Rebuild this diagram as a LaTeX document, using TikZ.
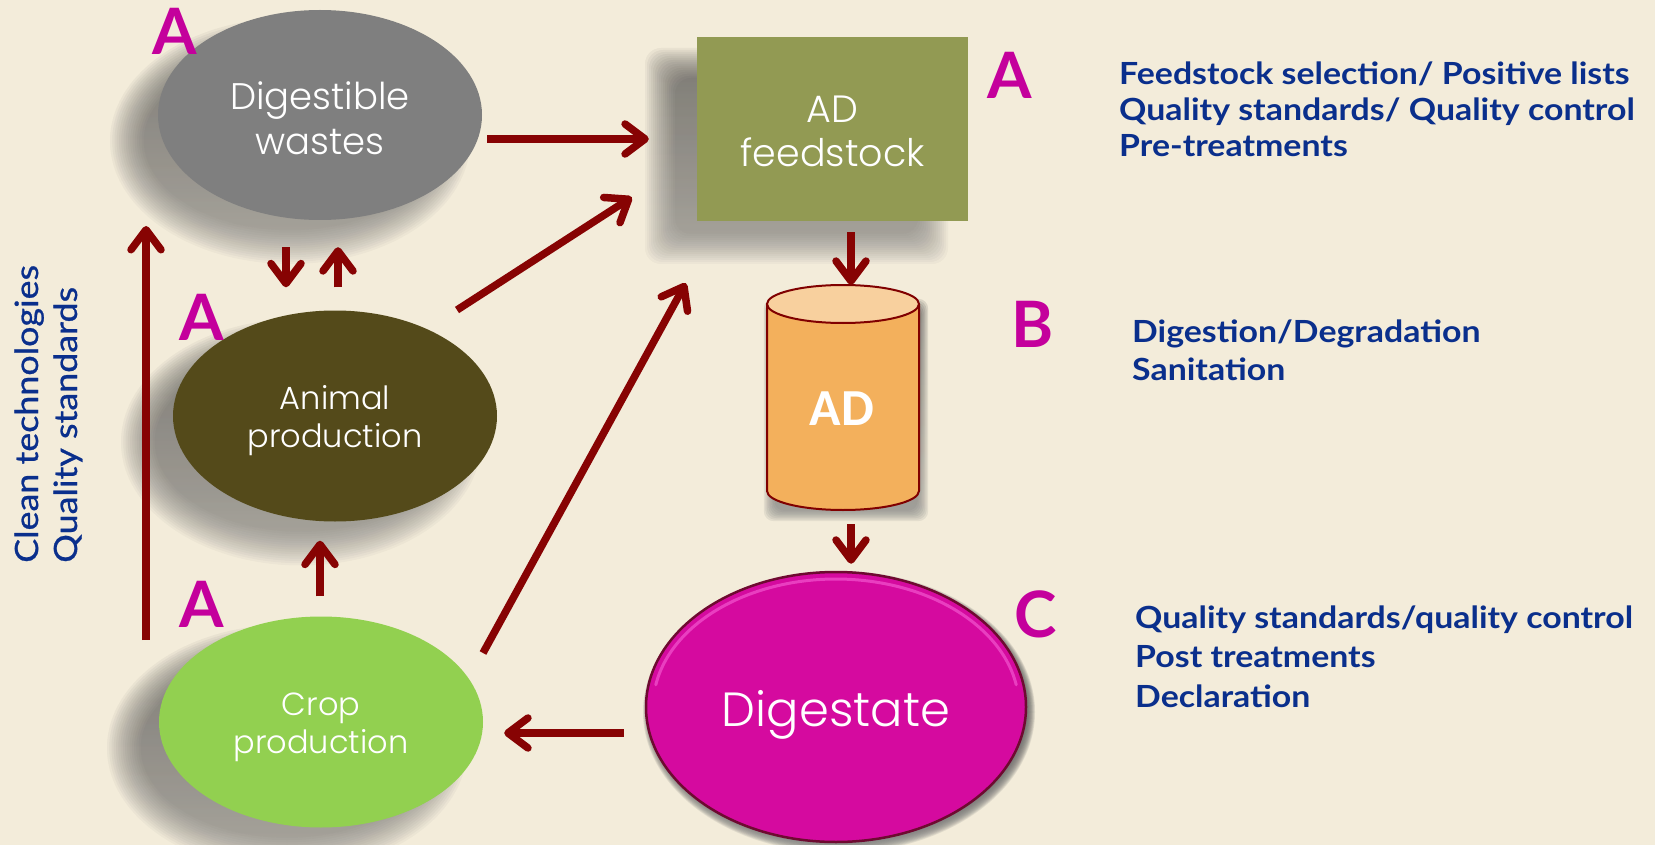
\documentclass[tikz,border=0pt]{standalone}
\usepackage{fontspec}
\setmainfont{Lato}
\newfontfamily\gothic{Poppins Light}
\newfontfamily\notefont{Lato Bold}[FakeStretch=1.11]
\newfontfamily\sidefont{Lato}[FakeStretch=1.12, FakeBold=0.8]
\newfontfamily\boldsans{Lato Bold}
\newfontfamily\calib{Carlito}
\usetikzlibrary{arrows.meta,calc,shapes.geometric}

\definecolor{bg}{HTML}{F3ECDA}
\definecolor{wastegrey}{HTML}{7F7F7F}
\definecolor{feedolive}{HTML}{929A53}
\definecolor{animalbrown}{HTML}{544A1A}
\definecolor{cropgreen}{HTML}{92D050}
\definecolor{cylbody}{HTML}{F3B05C}
\definecolor{cyltop}{HTML}{F8D09E}
\definecolor{maroon}{HTML}{800000}
\definecolor{arrowred}{HTML}{870303}
\definecolor{digmag}{HTML}{D50A9F}
\definecolor{digrim}{HTML}{6E0A30}
\definecolor{dighl}{HTML}{F255CF}
\definecolor{lettermag}{HTML}{C4009C}
\definecolor{noteblue}{HTML}{0A2F8C}
\definecolor{shade}{HTML}{3A3220}

\pgfdeclarelayer{shadelayer}
\pgfsetlayers{shadelayer,main}

% soft shadow under an elliptical node: name, x radius, y radius, dx, dy, spread, opacity
\newcommand\ovalshade[7]{%
  \foreach \k in {0,...,15}{%
    \fill[shade, opacity=#7] ($(#1.center)+(#4,#5)$)
      ellipse[x radius={(#2+#6-#6*\k/8)*1pt}, y radius={(#3+#6-#6*\k/8)*1pt}];}}
% soft shadow under a rectangular node: name, half width, half height, dx, dy, spread, opacity
\newcommand\boxshade[7]{%
  \foreach \k in {0,...,15}{%
    \pgfmathsetmacro\grow{#6-#6*\k/8}%
    \fill[shade, opacity=#7, rounded corners=16pt]
      ($(#1.center)+(#4,#5)+(-#2,-#3)+(-\grow,-\grow)$) rectangle
      ($(#1.center)+(#4,#5)+(#2,#3)+(\grow,\grow)$);}}
% invisible strut that lowers a node's text a little
\newcommand\textdrop[1]{\rule{0pt}{#1}}

\tikzset{
  blob/.style={ellipse, inner sep=0pt, text=white, align=center},
  arr/.style={draw=arrowred, line width=7.5pt,
      -{Straight Barb[length=20pt, width=30pt, line cap=round, line join=round]}},
  stagelbl/.style={anchor=base, inner sep=0pt, text=lettermag,
      font=\boldsans\fontsize{64}{64}\selectfont},
  note/.style={anchor=base west, inner sep=0pt, text=noteblue,
      font=\notefont\fontsize{30.5}{36}\selectfont},
  sidenote/.style={anchor=base west, inner sep=0pt, text=noteblue, rotate=90,
      font=\sidefont\fontsize{32}{36}\selectfont},
}

\begin{document}
\begin{tikzpicture}[x=1pt, y=-1pt]
\begin{pgfonlayer}{shadelayer}
  \fill[bg] (0,0) rectangle (1655,845);
\end{pgfonlayer}
\useasboundingbox (0,0) rectangle (1655,845);

% main stages
\node[blob, fill=wastegrey, minimum width=324pt, minimum height=210pt,
      font=\gothic\fontsize{37}{45}\selectfont] (dw) at (320,115) {\textdrop{0.92em}Digestible\\wastes};
\node[rectangle, fill=feedolive, minimum width=271pt, minimum height=184pt, inner sep=0pt,
      text=white, align=center,
      font=\gothic\fontsize{38}{44}\selectfont] (feed) at (832.5,129) {\textdrop{0.84em}AD\\feedstock};
\node[blob, fill=animalbrown, minimum width=324pt, minimum height=211pt,
      font=\gothic\fontsize{32}{38}\selectfont] (an) at (335,416) {\textdrop{1.06em}Animal\\production};
\node[blob, fill=cropgreen, minimum width=324pt, minimum height=211pt,
      font=\gothic\fontsize{32}{38}\selectfont] (crop) at (321,722) {\textdrop{1.06em}Crop\\production};

% digestate
\node[blob, fill=digmag, draw=digrim, line width=2.5pt, minimum width=380pt, minimum height=270pt,
      font=\gothic\fontsize{48}{48}\selectfont] (dig) at (836,707) {\textdrop{1.08em}Digestate};
\draw[dighl, line width=3pt, opacity=.7, line cap=round]
  ($(dig.center)+(-180.2,-22.2)$) arc[start angle=170, end angle=10, x radius=183pt, y radius=128pt];

% digester tank
\node[minimum width=152pt, minimum height=225pt, inner sep=0pt] (cyl) at (843,397.5) {};
\fill[cylbody]
  (767,304) -- (767,491) arc[start angle=180, end angle=360, x radius=76pt, y radius=19pt]
  -- (919,304) -- cycle;
\draw[maroon, line width=2pt]
  (767,304) -- (767,491) arc[start angle=180, end angle=360, x radius=76pt, y radius=19pt]
  -- (919,304);
\filldraw[fill=cyltop, draw=maroon, line width=2pt] (843,304) ellipse[x radius=76pt, y radius=19pt];
\node[inner sep=0pt, text=white, font=\calib\bfseries\fontsize{52}{52}\selectfont] (adlbl) at (842,409) {AD};

% shadows beneath the shapes
\begin{pgfonlayer}{shadelayer}
  \ovalshade{dw}{162}{105}{-30}{26}{18}{0.026}
  \ovalshade{an}{162}{105.5}{-34}{26}{18}{0.026}
  \ovalshade{crop}{162}{105.5}{-34}{26}{18}{0.026}
  \boxshade{feed}{135.5}{92}{-36}{27}{16}{0.026}
  \ovalshade{dig}{190}{135}{3}{5}{6}{0.07}
  \foreach \k in {0,...,7}{%
    \fill[shade, opacity=0.07, rounded corners=10pt]
      ($(cyl.north west)+(3-6+1.5*\k,20-6+1.5*\k)$) rectangle ($(cyl.south east)+(3+6-1.5*\k,5+6-1.5*\k)$);}
\end{pgfonlayer}

% flows
\draw[arr] ($(dw.east)+(5,24)$) -- ($(feed.west)+(-48,10)$);
\draw[arr] ($(an.center)+(122,-106)$) -- ($(feed.south west)+(-65,-24)$);
\draw[arr] ($(crop.center)+(162,-69)$) -- ($(feed.south west)+(-11,62)$);
\draw[arr] ($(feed.south)+(18.5,11)$) -- ($(cyl.north)+(8,0)$);
\draw[arr] ($(cyl.south)+(8,14)$) -- ($(dig.north)+(15,-7)$);
\draw[arr] ($(dig.west)+(-21,26)$) -- ($(crop.east)+(21,11)$);
\draw[arr] ($(crop.north)+(-1,-20)$) -- ($(an.south)+(-15,19)$);
\draw[arr] ($(an.north)+(3,-23)$) -- ($(dw.south)+(18,27)$);
\draw[arr] ($(dw.south)+(-34,27)$) -- ($(an.north)+(-49,-23)$);
\draw[arr] ($(crop.center)+(-175,-82)$) -- ($(dw.center)+(-174,111)$);

% stage letters
\node[stagelbl] (la1) at (175,55) {A};
\node[stagelbl] (la2) at (201.5,340) {A};
\node[stagelbl] (la3) at (202,627) {A};
\node[stagelbl] (la4) at (1009.5,99) {A};
\node[stagelbl] (lb) at (1032.5,347) {B};
\node[stagelbl] (lc) at (1036,637) {C};

% notes
\node[note] (n1) at (1119,85) {Feedstock selection/ Positive lists};
\node[note] (n2) at (1119,121) {Quality standards/ Quality control};
\node[note] (n3) at (1119,157) {Pre-treatments};
\node[note] (n4) at (1132,342) {Digestion/Degradation};
\node[note] (n5) at (1132,380) {Sanitation};
\node[note] (n6) at (1135,628) {Quality standards/quality control};
\node[note] (n7) at (1135,667) {Post treatments};
\node[note] (n8) at (1135,707) {Declaration};

\node[sidenote] (s1) at (38,563) {Clean technologies};
\node[sidenote] (s2) at (77,563) {Quality standards};
\end{tikzpicture}
\end{document}
